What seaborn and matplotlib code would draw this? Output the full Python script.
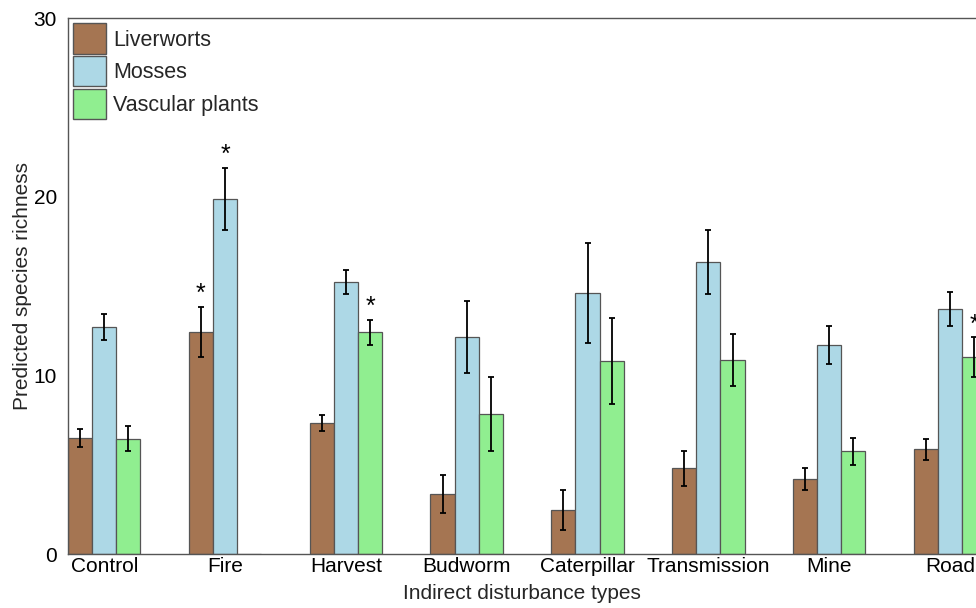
import matplotlib
matplotlib.use("Agg")
import matplotlib.pyplot as plt
import seaborn as sns
import pandas as pd
from matplotlib.patches import Patch

categories = ["Control", "Fire", "Harvest", "Budworm", "Caterpillar", "Transmission", "Mine", "Road"]
groups = ["Liverworts", "Mosses", "Vascular plants"]
liverworts = [6.5, 12.45, 7.35, 3.36, 2.46, 4.8, 4.2, 5.86]
mosses = [12.7, 19.87, 15.22, 12.14, 14.6, 16.34, 11.7, 13.69]
vascular = [6.45, 0.0, 12.4, 7.83, 10.8, 10.84, 5.75, 11.02]
liverworts_err = [0.5, 1.4, 0.45, 1.06, 1.1, 0.97, 0.62, 0.58]
mosses_err = [0.75, 1.75, 0.65, 2.0, 2.8, 1.77, 1.05, 0.95]
vascular_err = [0.7, 0.0, 0.7, 2.05, 2.4, 1.45, 0.75, 1.1]
liverworts_sig = [False, True, False, False, False, False, False, False]
mosses_sig = [False, True, False, False, False, False, False, False]
vascular_sig = [False, False, True, False, False, False, False, True]
colors = ["#A57552", "#ADD8E6", "#90EE90"]

values = [liverworts, mosses, vascular]
errors = [liverworts_err, mosses_err, vascular_err]
sigs = [liverworts_sig, mosses_sig, vascular_sig]

rows = []
for g, vals in zip(groups, values):
    for c, v in zip(categories, vals):
        rows.append({"cat": c, "group": g, "value": v})
df = pd.DataFrame(rows)

sns.set_theme(style="white")
plt.rcParams["font.family"] = ["Liberation Sans", "DejaVu Sans"]

fig = plt.figure(figsize=(9.76, 6.08), dpi=100)
ax = fig.add_axes([68/976, 54/608, 908/976, 536/608])

sns.barplot(data=df, x="cat", y="value", hue="group", order=categories,
            hue_order=groups, palette=colors, saturation=1, width=0.6, gap=0,
            errorbar=None, edgecolor="#555555", linewidth=0.9, ax=ax,
            legend=False)

for cont, errs, sg in zip(ax.containers, errors, sigs):
    for bar, e, s in zip(cont, errs, sg):
        xc = bar.get_x() + bar.get_width() / 2
        h = bar.get_height()
        if e > 0:
            ax.errorbar(xc, h, yerr=e, fmt="none", ecolor="black",
                        elinewidth=1.3, capsize=2, capthick=1.3, zorder=5)
        if s:
            ax.text(xc, h + e + 0.05, "*", ha="center", va="bottom",
                    fontsize=18, color="black", zorder=6)

ax.set_xlim(-0.3, 7.215)
ax.set_ylim(0, 30)
ax.set_yticks([0, 10, 20, 30])
ax.set_yticklabels(["0", "10", "20", "30"])
ax.tick_params(axis="both", length=0, labelsize=15, colors="black")
ax.tick_params(axis="y", pad=8)
ax.tick_params(axis="x", pad=2)
ax.set_xlabel("Indirect disturbance types", fontsize=15, labelpad=6)
ax.set_ylabel("Predicted species richness", fontsize=15, labelpad=1)

for sp in ax.spines.values():
    sp.set_color("#555555")
    sp.set_linewidth(1.0)
ax.spines["right"].set_visible(False)

handles = [Patch(facecolor=c, edgecolor="#555555", linewidth=1.0, label=g)
           for c, g in zip(colors, groups)]
ax.legend(handles=handles, loc="upper left", frameon=False, fontsize=15.5,
          handlelength=1.5, handleheight=1.8, labelspacing=0.1,
          handletextpad=0.35, borderaxespad=0.15, borderpad=0.1)

fig.savefig("out.png", dpi=100)
